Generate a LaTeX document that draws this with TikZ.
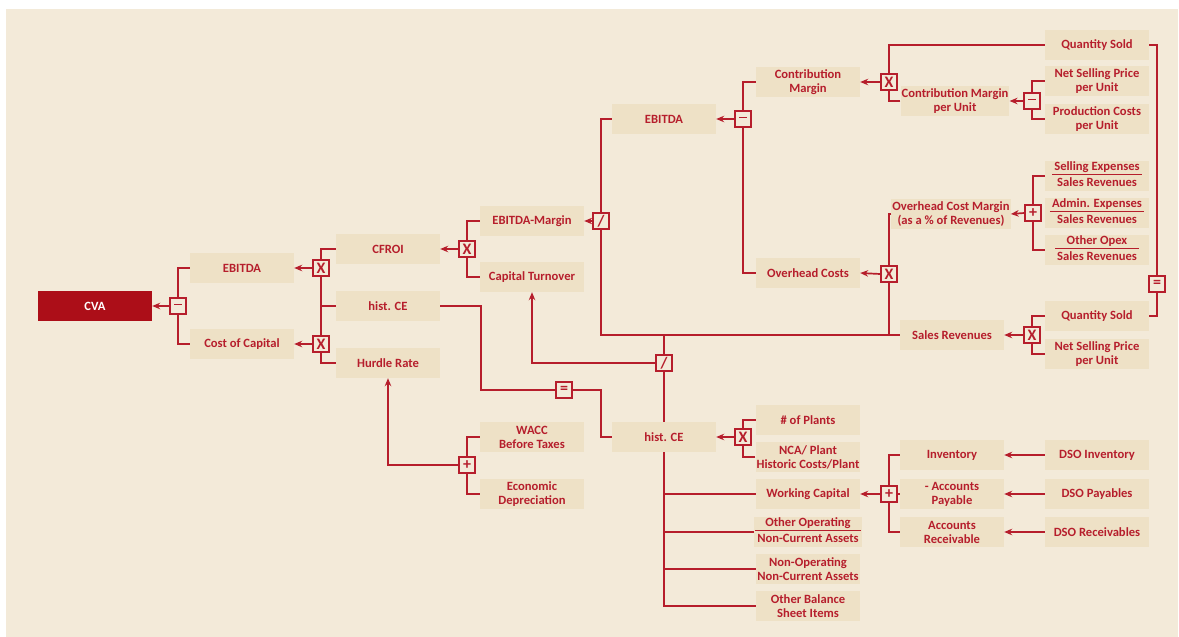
\documentclass[tikz,border=0pt]{standalone}
\usepackage{fontspec}
\setmainfont{Carlito}
\usetikzlibrary{arrows.meta}
\definecolor{bgc}{RGB}{243,234,217}
\definecolor{boxc}{RGB}{238,225,198}
\definecolor{redc}{RGB}{182,30,44}
\definecolor{cvac}{RGB}{172,14,24}
\newcommand\frc[2]{{\setlength\arrayrulewidth{1.3pt}\renewcommand\arraystretch{0.92}\begin{tabular}{@{\,}c@{\,}}#1\\[-1pt]\hline \rule{0pt}{11pt}#2\end{tabular}}}
\newcommand\opminus{\rule[3.2pt]{8pt}{1.8pt}}
\begin{document}
\begin{tikzpicture}[x=1pt,y=-1pt,
  blk/.style={fill=boxc, text=redc, font=\fontsize{12.6}{14}\selectfont\bfseries, minimum width=104pt, minimum height=30pt, inner sep=1pt, align=center},
  cvabox/.style={fill=cvac, text=white, font=\fontsize{12.6}{14}\selectfont\bfseries, minimum width=114pt, minimum height=30pt, inner sep=1pt},
  op/.style={draw=redc, fill=bgc, line width=1.6pt, minimum size=16pt, inner sep=0pt, text=redc, font=\fontsize{16}{16}\selectfont\bfseries},
  ln/.style={draw=redc, line width=1.7pt},
  arr/.style={ln, -{Stealth[length=8pt,width=6.5pt]}}]
\useasboundingbox (0,0) rectangle (1179,637);
\fill[white] (0,0) rectangle (1179,637);
\fill[bgc] (6,9) rectangle (1178,637);
% nodes
\node[cvabox] (cva) at (95,306) {CVA};
\node[op] (op1) at (178,306) {\opminus};
\node[blk] (ebitda1) at (242,268) {EBITDA};
\node[blk] (coc) at (242,344) {Cost of Capital};
\node[op] (opx1) at (321,268) {X};
\node[op] (opx2) at (321,344) {X};
\node[blk] (cfroi) at (388,249) {CFROI};
\node[blk] (histce1) at (388,306) {hist. CE};
\node[blk] (hurdle) at (388,363) {Hurdle Rate};
\node[op] (opx3) at (467,249) {X};
\node[blk] (margin) at (532,221) {EBITDA-Margin};
\node[blk] (turnover) at (532,277) {Capital Turnover};
\node[op] (opdiv1) at (601,221) {/};
\node[blk] (ebitda2) at (664,119) {EBITDA};
\node[op] (opm2) at (743,119) {\opminus};
\node[blk] (contrib) at (808,82) {Contribution\\Margin};
\node[blk] (overhead) at (808,273) {Overhead Costs};
\node[op] (opx4) at (889,82) {X};
\node[blk, minimum width=108pt] (cmpu) at (955,101) {Contribution Margin\\per Unit};
\node[op] (opm3) at (1032,101) {\opminus};
\node[blk] (qs1) at (1097,45) {Quantity Sold};
\node[blk] (nsp1) at (1097,81) {Net Selling Price\\per Unit};
\node[blk] (pc) at (1097,119) {Production Costs\\per Unit};
\node[op] (opeq) at (1157,284) {=};
\node[blk, minimum width=118pt] (ocm) at (951,214) {Overhead Cost Margin\\(as a \% of Revenues)};
\node[op] (opp1) at (1033,213) {+};
\node[blk] (se) at (1097,176) {\frc{Selling Expenses}{Sales Revenues}};
\node[blk] (ae) at (1097,213) {\frc{Admin. Expenses}{Sales Revenues}};
\node[blk] (oo) at (1097,250) {\frc{Other Opex}{Sales Revenues}};
\node[op] (opx5) at (889,274) {X};
\node[blk] (sales) at (952,335) {Sales Revenues};
\node[op] (opx6) at (1032,335) {X};
\node[blk] (qs2) at (1097,316) {Quantity Sold};
\node[blk] (nsp2) at (1097,354) {Net Selling Price\\per Unit};
\node[op] (opdiv2) at (664,363) {/};
\node[blk] (histce2) at (664,437) {hist. CE};
\node[op] (opx7) at (743,437) {X};
\node[blk] (plants) at (808,420) {\# of Plants};
\node[blk] (nca) at (808,457) {NCA/ Plant\\Historic Costs/Plant};
\node[blk] (wc) at (808,494) {Working Capital};
\node[blk] (ooa) at (808,532) {\frc{Other Operating}{Non-Current Assets}};
\node[blk] (noa) at (808,569) {Non-Operating\\Non-Current Assets};
\node[blk] (obs) at (808,606) {Other Balance\\Sheet Items};
\node[op] (opp2) at (889,494) {+};
\node[blk] (inv) at (952,455) {Inventory};
\node[blk] (ap) at (952,494) {- Accounts\\Payable};
\node[blk] (ar) at (952,532) {Accounts\\Receivable};
\node[blk] (dsoi) at (1097,455) {DSO Inventory};
\node[blk] (dsop) at (1097,494) {DSO Payables};
\node[blk] (dsor) at (1097,532) {DSO Receivables};
\node[op] (opeq2) at (564,390) {=};
\node[blk] (wacc) at (532,437) {WACC\\Before Taxes};
\node[blk] (ecdep) at (532,494) {Economic\\Depreciation};
\node[op] (opp3) at (467,465) {+};
\coordinate (h1) at (481,390);
\coordinate (h2) at (601,390);
% connectors
\draw[ln] (ebitda1.west) -| (op1.north);
\draw[ln] (coc.west) -| (op1.south);
\draw[arr] (op1.west) -- (cva.east);
\draw[ln] (cfroi.west) -| (opx1.north);
\draw[ln] (opx1.south) -- (opx2.north);
\draw[ln] (hurdle.west) -| (opx2.south);
\draw[ln] (histce1.west) -- (histce1.west -| opx1);
\draw[arr] (opx1.west) -- (ebitda1.east);
\draw[arr] (opx2.west) -- (coc.east);
\draw[ln] (margin.west) -| (opx3.north);
\draw[ln] (turnover.west) -| (opx3.south);
\draw[arr] (opx3.west) -- (cfroi.east);
\draw[ln] (ebitda2.west) -| (opdiv1.north);
\draw[ln] (opdiv1.south) |- (sales.west);
\draw[arr] (opdiv1.west) -- (margin.east);
\draw[ln] (contrib.west) -| (opm2.north);
\draw[ln] (overhead.west) -| (opm2.south);
\draw[arr] (opm2.west) -- (ebitda2.east);
\draw[ln] (qs1.west) -| (opx4.north);
\draw[ln] (cmpu.west) -| (opx4.south);
\draw[arr] (opx4.west) -- (contrib.east);
\draw[ln] (nsp1.west) -| (opm3.north);
\draw[ln] (pc.west) -| (opm3.south);
\draw[arr] (opm3.west) -- (cmpu.east);
\draw[ln] (qs1.east) -| (opeq.north);
\draw[ln] (qs2.east) -| (opeq.south);
\draw[ln] (se.west) -| (opp1.north);
\draw[ln] (oo.west) -| (opp1.south);
\draw[arr] (opp1.west) -- (ocm.east);
\draw[ln] (ocm.west) -| (opx5.north);
\draw[ln] (opx5.south) -- (opx5 |- sales);
\draw[arr] (opx5.west) -- (overhead.east);
\draw[ln] (qs2.west) -| (opx6.north);
\draw[ln] (nsp2.west) -| (opx6.south);
\draw[arr] (opx6.west) -- (sales.east);
\draw[ln] (opdiv2 |- sales) -- (opdiv2.north);
\draw[ln] (opdiv2.south) -- (histce2.north);
\draw[arr] (opdiv2.west) -| (turnover.south);
\draw[ln] (plants.west) -| (opx7.north);
\draw[ln] (nca.west) -| (opx7.south);
\draw[arr] (opx7.west) -- (histce2.east);
\draw[ln] (histce2.south) |- (obs.west);
\draw[ln] (wc.west) -- (wc.west -| histce2);
\draw[ln] (ooa.west) -- (ooa.west -| histce2);
\draw[ln] (noa.west) -- (noa.west -| histce2);
\draw[ln] (inv.west) -| (opp2.north);
\draw[ln] (ar.west) -| (opp2.south);
\draw[ln] (ap.west) -- (opp2.east);
\draw[arr] (opp2.west) -- (wc.east);
\draw[arr] (dsoi.west) -- (inv.east);
\draw[arr] (dsop.west) -- (ap.east);
\draw[arr] (dsor.west) -- (ar.east);
\draw[ln] (histce1.east) -| (h1) -- (opeq2.west);
\draw[ln] (opeq2.east) -- (h2) |- (histce2.west);
\draw[ln] (wacc.west) -| (opp3.north);
\draw[ln] (ecdep.west) -| (opp3.south);
\draw[arr] (opp3.west) -| (hurdle.south);
\end{tikzpicture}
\end{document}
